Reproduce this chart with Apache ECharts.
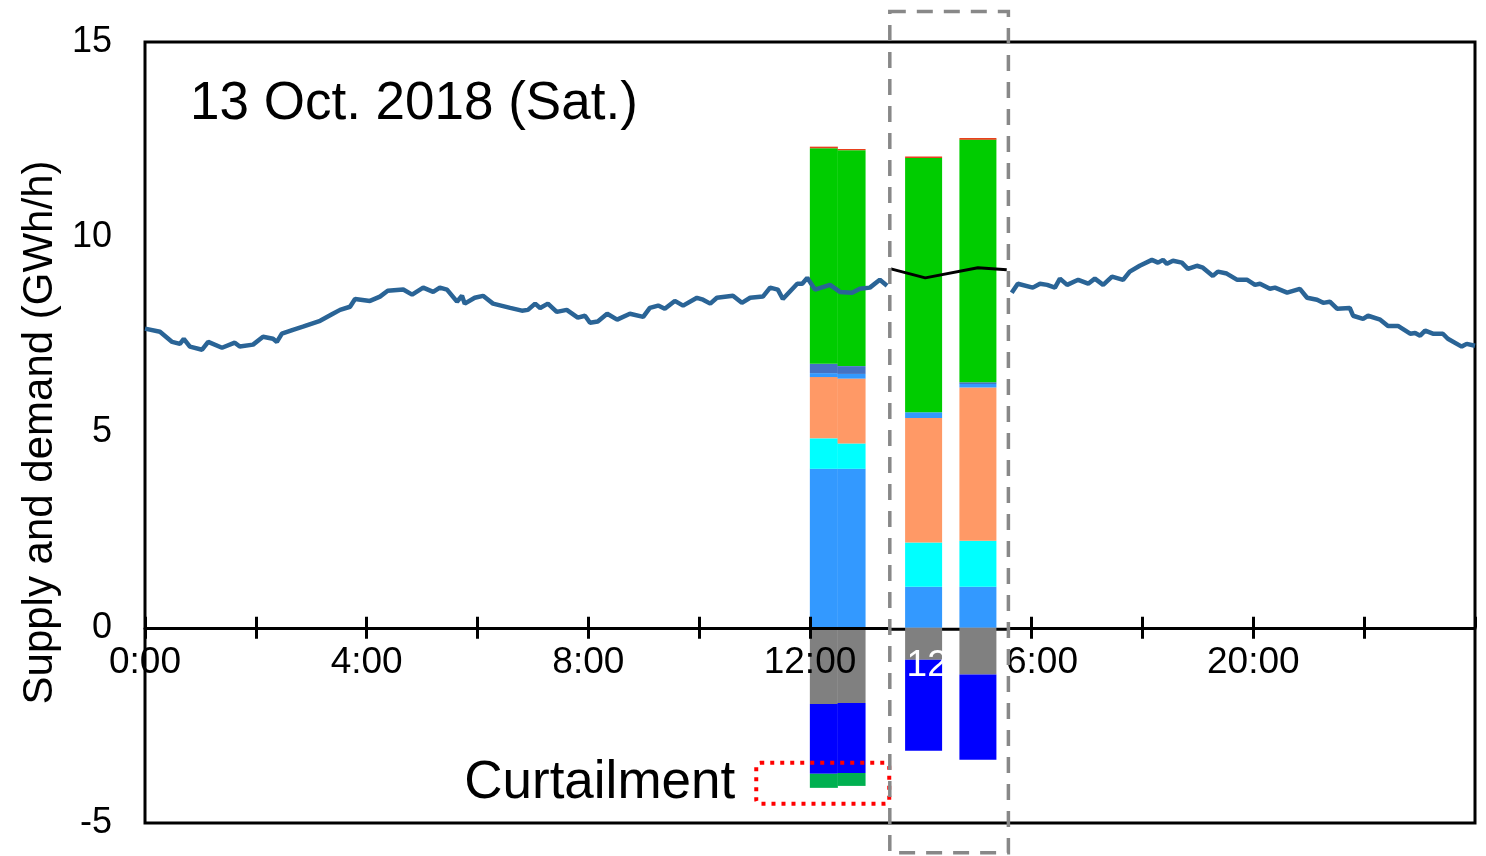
<!DOCTYPE html>
<html>
<head>
<meta charset="utf-8">
<script src="https://cdn.jsdelivr.net/npm/echarts@6/dist/echarts.min.js"></script>
<style>
html,body{margin:0;padding:0;background:#fff;}
#c{width:1486px;height:856px;}
</style>
</head>
<body>
<div id="c"></div>
<script>
// ---- Data ----
const titleText = '13 Oct. 2018 (Sat.)';
const yName = 'Supply and demand (GWh/h)';
const curtailText = 'Curtailment';

// demand (hours, GWh/h) before and after the inset
const hoursAM = [0.00,0.27,0.49,0.63,0.70,0.81,1.03,1.14,1.39,1.62,1.71,1.95,2.13,2.31,2.38,2.47,2.67,2.85,3.16,3.39,3.52,3.70,3.79,4.06,4.24,4.38,4.66,4.82,5.02,5.20,5.32,5.45,5.63,5.72,5.77,5.95,6.10,6.28,6.59,6.80,6.91,7.04,7.13,7.27,7.43,7.61,7.81,7.94,8.03,8.17,8.34,8.52,8.75,8.99,9.11,9.26,9.38,9.56,9.71,9.96,10.07,10.20,10.32,10.61,10.77,10.92,11.15,11.28,11.42,11.51,11.77,11.86,11.95,12.09,12.36,12.54,12.76,12.90,13.08,13.26,13.39];
const demandAM = [7.66,7.58,7.32,7.27,7.40,7.20,7.12,7.32,7.17,7.30,7.20,7.25,7.45,7.40,7.32,7.53,7.63,7.71,7.86,8.04,8.14,8.22,8.42,8.37,8.48,8.63,8.66,8.53,8.71,8.60,8.71,8.66,8.35,8.50,8.30,8.45,8.50,8.30,8.19,8.12,8.14,8.30,8.19,8.30,8.09,8.14,7.94,7.99,7.81,7.84,8.04,7.89,8.04,7.96,8.19,8.25,8.17,8.37,8.25,8.45,8.40,8.30,8.45,8.50,8.32,8.45,8.48,8.71,8.66,8.42,8.81,8.81,8.96,8.66,8.78,8.60,8.58,8.68,8.71,8.91,8.76];
const hoursPM = [15.64,15.75,16.02,16.15,16.28,16.42,16.51,16.64,16.84,17.02,17.14,17.29,17.45,17.65,17.77,17.95,18.17,18.28,18.37,18.44,18.55,18.71,18.82,18.98,19.09,19.27,19.36,19.52,19.71,19.89,20.03,20.12,20.30,20.39,20.61,20.84,20.97,21.15,21.26,21.38,21.51,21.74,21.80,21.98,22.07,22.29,22.43,22.61,22.83,22.92,23.01,23.10,23.24,23.42,23.51,23.76,23.85,24.00];
const demandPM = [8.58,8.81,8.71,8.81,8.78,8.71,8.94,8.78,8.91,8.81,8.94,8.78,8.99,8.91,9.12,9.27,9.42,9.35,9.42,9.32,9.40,9.35,9.19,9.27,9.22,9.01,9.12,9.07,8.91,8.91,8.78,8.81,8.68,8.71,8.58,8.68,8.45,8.40,8.32,8.35,8.17,8.19,7.99,7.91,7.99,7.89,7.73,7.73,7.53,7.55,7.48,7.61,7.53,7.53,7.40,7.20,7.27,7.22];
// demand inside the inset (black)
const insetHours = [13.46,14.08,15.03,15.55];
const insetDemand = [9.19,8.96,9.22,9.17];

// stacked bars: first two in the main chart, last two in the inset
const barHoursMain = [12.25,12.75];
const barHoursInset = [14.05,15.03];
const nuclear     = [4.07,4.07,1.05,1.05];
const hydro       = [0.78,0.65,1.13,1.18];
const thermal     = [1.57,1.66,3.19,3.92];
const geothermal  = [0.10,0.12,0.15,0.09];
const biomass     = [0.24,0.20,0.00,0.05];
const solar       = [5.52,5.53,6.51,6.21];
const wind        = [0.04,0.03,0.04,0.04];
const pumped      = [-1.95,-1.93,-0.82,-1.20];
const interconn   = [-1.79,-1.79,-2.33,-2.18];
const curtailment = [-0.36,-0.33,0,0];

const xTicks = [0,4,8,12,16,20];

// ---- Styling / layout ----
const components = [
  {name:'nuclear', data:nuclear, color:'#3399ff'},
  {name:'hydro', data:hydro, color:'#00ffff'},
  {name:'thermal', data:thermal, color:'#ff9966'},
  {name:'geothermal', data:geothermal, color:'#3399ff'},
  {name:'biomass', data:biomass, color:'#4472c4'},
  {name:'solar', data:solar, color:'#00cc00'},
  {name:'wind', data:wind, color:'#e8401c'},
  {name:'pumped', data:pumped, color:'#808080'},
  {name:'interconnection', data:interconn, color:'#0000ff'},
  {name:'curtailment', data:curtailment, color:'#00b050'}
];
const FONT = '"Liberation Sans", Arial, sans-serif';
const insetBox = {h0:13.44, h1:15.58, vTop:15.78, vBot:-5.76};
const curtBox = {h0:11.03, h1:13.43, vTop:-3.46, vBot:-4.51};
const GRID = {left:145, right:11, top:42, bottom:33};
const H = 856;
const plotH = H - GRID.top - GRID.bottom;
const zeroFromBottom = plotH * 5 / 20;   // y = 0 sits 5/20 of the height above the bottom

const series = [];
components.forEach(c => {
  // data given as [value, hour] so the value dimension is the stacked one
  series.push({
    name:c.name, type:'bar', stack:'main', xAxisIndex:0, barWidth:28, z:2,
    encode:{x:1, y:0},
    itemStyle:{color:c.color}, silent:true,
    data: barHoursMain.map((h,i)=>[c.data[i], h])
  });
  series.push({
    name:c.name, type:'bar', stack:'inset', xAxisIndex:1, barWidth:37, z:5,
    encode:{x:1, y:0},
    itemStyle:{color:c.color}, silent:true,
    data: barHoursInset.map((h,i)=>[c.data[i+2], h])
  });
});
series.push({
  type:'line', xAxisIndex:0, showSymbol:false, z:3,
  lineStyle:{color:'#2a6496', width:4.5}, data: hoursAM.map((h,i)=>[h, demandAM[i]])
});
series.push({
  type:'line', xAxisIndex:0, showSymbol:false, z:3,
  lineStyle:{color:'#2a6496', width:4.5}, data: hoursPM.map((h,i)=>[h, demandPM[i]])
});
series.push({
  type:'line', xAxisIndex:0, showSymbol:false, z:6,
  lineStyle:{color:'#000', width:3}, data: insetHours.map((h,i)=>[h, insetDemand[i]])
});

const chart = echarts.init(document.getElementById('c'), null, {renderer:'canvas'});
chart.setOption({
  animation:false,
  backgroundColor:'#fff',
  grid:{left:GRID.left, right:GRID.right, top:GRID.top, bottom:GRID.bottom, containLabel:false, outerBoundsMode:'none',
    show:true, borderColor:'#000', borderWidth:3, backgroundColor:'transparent'},
  xAxis:[{
    type:'value', min:0, max:24, interval:2, position:'bottom', offset:-zeroFromBottom, z:3,
    axisLine:{onZero:false, lineStyle:{color:'#000', width:3}},
    axisTick:{show:true, length:11, lineStyle:{color:'#000', width:3}},
    axisLabel:{color:'#000', fontSize:37, fontFamily:FONT, margin:17, showMaxLabel:false,
      formatter: v => xTicks.indexOf(v) >= 0 ? v + ':00' : ''},
    splitLine:{show:false}
  },{
    type:'value', min:0, max:24, interval:2, position:'top', offset:-(plotH - zeroFromBottom), z:3,
    axisLine:{show:false, onZero:false},
    axisTick:{show:true, length:11, lineStyle:{color:'#000', width:3}},
    axisLabel:{show:false},
    splitLine:{show:false}
  }],
  yAxis:{
    type:'value', min:-5, max:15, interval:5,
    axisLine:{show:false, onZero:false}, axisTick:{show:false}, splitLine:{show:false},
    axisLabel:{color:'#000', fontSize:36, fontFamily:FONT, margin:33},
    name:yName, nameLocation:'middle', nameGap:78,
    nameTextStyle:{color:'#000', fontSize:42, fontFamily:FONT}
  },
  series: series
});

function px(h, v){ return chart.convertToPixel({xAxisIndex:0, yAxisIndex:0}, [h, v]); }
const bTL = px(insetBox.h0, insetBox.vTop), bBR = px(insetBox.h1, insetBox.vBot);
const gTop = px(0, 15)[1], gBot = px(0, -5)[1], zeroY = px(0, 0)[1];
const cTL = px(curtBox.h0, curtBox.vTop), cBR = px(curtBox.h1, curtBox.vBot);
const lbl = px(barHoursInset[0], 0);

chart.setOption({
  graphic:[
    {type:'rect', z:4, silent:true,
      shape:{x:bTL[0]+1, y:gTop+2, width:bBR[0]-bTL[0]-2, height:gBot-gTop-4},
      style:{fill:'#fff'}},
    {type:'line', z:4, silent:true,
      shape:{x1:bTL[0], y1:zeroY+1.5, x2:bBR[0], y2:zeroY+1.5},
      style:{stroke:'#000', lineWidth:3}},
    {type:'text', z:10, silent:true, x:lbl[0]-17, y:zeroY+38,
      style:{text:'12', fill:'#fff', font:'37px ' + FONT, textAlign:'left', textVerticalAlign:'middle'}},
    {type:'rect', z:10, silent:true,
      shape:{x:bTL[0], y:bTL[1], width:bBR[0]-bTL[0], height:bBR[1]-bTL[1]},
      style:{fill:'none', stroke:'#888', lineWidth:3.5, lineDash:[16,11]}},
    {type:'rect', z:9, silent:true,
      shape:{x:cTL[0], y:cTL[1], width:cBR[0]-cTL[0], height:cBR[1]-cTL[1], r:4},
      style:{fill:'none', stroke:'#ff0000', lineWidth:4, lineDash:[4,6]}},
    {type:'text', z:10, silent:true, x:190, y:104,
      style:{text:titleText, fill:'#000', font:'53px ' + FONT, textAlign:'left', textVerticalAlign:'middle'}},
    {type:'text', z:10, silent:true, x:cTL[0]-292, y:783,
      style:{text:curtailText, fill:'#000', font:'53px ' + FONT, textAlign:'left', textVerticalAlign:'middle'}}
  ]
});
</script>
</body>
</html>
